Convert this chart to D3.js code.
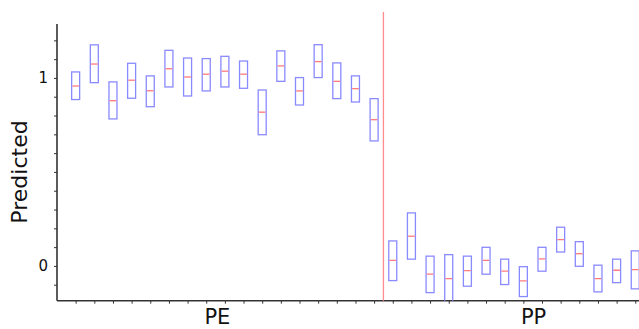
<!DOCTYPE html>
<html>
<head>
<meta charset="utf-8">
<script src="https://cdn.jsdelivr.net/npm/d3@7"></script>
<style>
  html, body { margin: 0; padding: 0; background: #fff; }
  svg { display: block; }
  text { font-family: "DejaVu Sans", sans-serif; fill: #111; }
</style>
</head>
<body>
<svg id="chart" width="639" height="329"></svg>
<script>
// ---- data ----
const groups = ["PE", "PP"];
const groupLabelPos = [8.6, 25.55];
const splitPos = 17.5;

const peMid  = [0.957, 1.074, 0.879, 0.988, 0.932, 1.049, 1.005, 1.020, 1.036, 1.020, 0.818, 1.064, 0.931, 1.087, 0.982, 0.943, 0.778];
const peLow  = [0.885, 0.975, 0.782, 0.892, 0.847, 0.952, 0.904, 0.931, 0.952, 0.945, 0.698, 0.982, 0.856, 1.002, 0.890, 0.872, 0.665];
const peHigh = [1.032, 1.176, 0.979, 1.078, 1.011, 1.147, 1.106, 1.103, 1.115, 1.090, 0.936, 1.144, 1.002, 1.177, 1.080, 1.011, 0.890];

const ppMid  = [0.030, 0.158, -0.044, -0.068, -0.025, 0.030, -0.028, -0.080, 0.037, 0.140, 0.065, -0.068, -0.023, -0.020];
const ppLow  = [-0.078, 0.036, -0.142, -0.200, -0.108, -0.044, -0.099, -0.163, -0.028, 0.074, -0.002, -0.138, -0.089, -0.122];
const ppHigh = [0.133, 0.282, 0.052, 0.060, 0.052, 0.099, 0.036, -0.004, 0.099, 0.206, 0.129, 0.004, 0.036, 0.080];

const yTickValues = [0, 1];
const yTickLabels = ["0", "1"];
const yLabel = "Predicted";

// ---- build records ----
const boxes = [];
peMid.forEach((m, i) => boxes.push({ pos: i + 1, mid: m, low: peLow[i], high: peHigh[i] }));
ppMid.forEach((m, i) => boxes.push({ pos: peMid.length + i + 1, mid: m, low: ppLow[i], high: ppHigh[i] }));

// ---- layout ----
const svg = d3.select("#chart");
const mLeft = 57, mRight = 639, mTop = 24, mBottom = 300.7;

const x = d3.scaleLinear().domain([0, 31.2]).range([mLeft, mRight]);
const y = d3.scaleLinear().domain([-0.185, 1.287]).range([mBottom, mTop]);

svg.append("defs").append("clipPath").attr("id", "plotClip")
  .append("rect").attr("x", mLeft).attr("y", 0).attr("width", mRight - mLeft).attr("height", mBottom);

const axisColor = "#333";

// y axis: minor ticks every 0.1
const yMinor = d3.range(-1, 13).map(k => k / 10);
const yAxis = d3.axisLeft(y).tickValues(yMinor).tickSize(3).tickSizeOuter(0)
  .tickFormat(d => { const k = yTickValues.findIndex(v => Math.abs(v - d) < 1e-9); return k >= 0 ? yTickLabels[k] : ""; })
  .tickPadding(6);
const gy = svg.append("g").attr("transform", `translate(${mLeft},0)`).call(yAxis);
gy.select(".domain").attr("stroke", axisColor).attr("stroke-width", 1.6)
  .attr("d", `M0,${mTop}V${mBottom}`);
gy.selectAll(".tick line").attr("stroke", axisColor).attr("stroke-width", 1);
gy.selectAll(".tick text").style("font-family", "DejaVu Sans").style("font-size", "15px").attr("fill", "#111");

// x axis: tick at each box position
const xAxis = d3.axisBottom(x).tickValues(d3.range(1, 32)).tickSize(3).tickSizeOuter(0).tickFormat("");
const gx = svg.append("g").attr("transform", `translate(0,${mBottom})`).call(xAxis);
gx.select(".domain").attr("stroke", axisColor).attr("stroke-width", 1.6)
  .attr("d", `M${mLeft},0H${mRight}`);
gx.selectAll(".tick line").attr("stroke", axisColor).attr("stroke-width", 1);

// separator line
svg.append("line")
  .attr("x1", x(splitPos)).attr("x2", x(splitPos))
  .attr("y1", 12).attr("y2", mBottom)
  .attr("stroke", "#ff8c8c").attr("stroke-width", 1.3);

// boxes
const plot = svg.append("g").attr("clip-path", "url(#plotClip)");
const bw = 8;
plot.selectAll("rect.box").data(boxes).join("rect")
  .attr("class", "box")
  .attr("x", d => x(d.pos) - bw / 2)
  .attr("y", d => y(d.high))
  .attr("width", bw)
  .attr("height", d => y(d.low) - y(d.high))
  .attr("fill", "none")
  .attr("stroke", "#8a8aff")
  .attr("stroke-width", 1.3);

plot.selectAll("line.med").data(boxes).join("line")
  .attr("class", "med")
  .attr("x1", d => x(d.pos) - bw / 2 + 0.7)
  .attr("x2", d => x(d.pos) + bw / 2 - 0.7)
  .attr("y1", d => y(d.mid)).attr("y2", d => y(d.mid))
  .attr("stroke", "#ff7a7a").attr("stroke-width", 1.3);

// group labels
svg.selectAll("text.grp").data(groups).join("text")
  .attr("class", "grp")
  .attr("x", (d, i) => x(groupLabelPos[i]))
  .attr("y", 324)
  .attr("text-anchor", "middle")
  .style("font-size", "21px")
  .text(d => d);

// y label
svg.append("text")
  .attr("transform", `translate(27,172) rotate(-90)`)
  .attr("text-anchor", "middle")
  .style("font-size", "22px")
  .text(yLabel);
</script>
</body>
</html>
